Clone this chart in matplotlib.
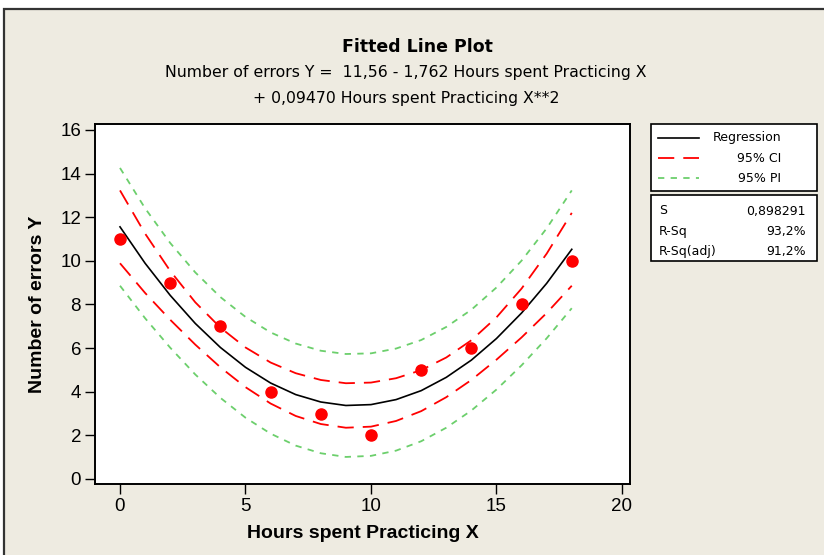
import matplotlib
matplotlib.use("Agg")
import matplotlib.pyplot as plt
from matplotlib.patches import Rectangle
from matplotlib.lines import Line2D

# observed data
hours = [0, 2, 4, 6, 8, 10, 12, 14, 16, 18]
errors = [11, 9, 7, 4, 3, 2, 5, 6, 8, 10]

# fitted curve and bands at each hour
grid_x = [0, 1, 2, 3, 4, 5, 6, 7, 8, 9, 10, 11, 12, 13, 14, 15, 16, 17, 18]
fit_y = [11.56, 9.89, 8.42, 7.13, 6.03, 5.12, 4.40, 3.87, 3.53, 3.37,
         3.41, 3.64, 4.05, 4.66, 5.45, 6.44, 7.61, 8.97, 10.53]
ci_hi = [13.23, 11.25, 9.54, 8.10, 6.94, 6.03, 5.34, 4.85, 4.54, 4.39,
         4.42, 4.62, 4.99, 5.57, 6.36, 7.41, 8.73, 10.33, 12.20]
ci_lo = [9.89, 8.53, 7.30, 6.16, 5.12, 4.21, 3.46, 2.89, 2.52, 2.35,
         2.40, 2.66, 3.11, 3.75, 4.54, 5.47, 6.49, 7.61, 8.86]
pi_hi = [14.26, 12.41, 10.82, 9.47, 8.34, 7.43, 6.72, 6.21, 5.88, 5.73,
         5.76, 5.98, 6.37, 6.97, 7.76, 8.78, 10.01, 11.49, 13.23]
pi_lo = [8.86, 7.37, 6.02, 4.79, 3.72, 2.81, 2.08, 1.53, 1.18, 1.01,
         1.06, 1.30, 1.73, 2.35, 3.14, 4.10, 5.21, 6.45, 7.83]

x_ticks = [0, 5, 10, 15, 20]
y_ticks = [0, 2, 4, 6, 8, 10, 12, 14, 16]

legend_labels = ["Regression", "95% CI", "95% PI"]
stat_names = ["S", "R-Sq", "R-Sq(adj)"]
stat_values = ["0,898291", "93,2%", "91,2%"]

BEIGE = "#EEEBE1"
GREEN = "#6CCF6C"
W, H = 824, 555
NARROW = "Liberation Sans"


def fx(px):
    return px / W


def fy(py):
    return 1 - py / H


fig = plt.figure(figsize=(W / 100, H / 100), dpi=100, facecolor="white")
fig.add_artist(Rectangle((fx(4), -0.1), 1.1, fy(9) + 0.1, transform=fig.transFigure,
                         facecolor=BEIGE, edgecolor="#333333", lw=1.6, zorder=0))

ax = fig.add_axes([fx(95), fy(484), fx(630) - fx(95), fy(124) - fy(484)])
ax.set_facecolor("white")

ax.plot(grid_x, pi_hi, color=GREEN, lw=1.3, dashes=(3.5, 3.5))
ax.plot(grid_x, pi_lo, color=GREEN, lw=1.3, dashes=(3.5, 3.5))
ax.plot(grid_x, ci_hi, color="red", lw=1.3, dashes=(9, 5))
ax.plot(grid_x, ci_lo, color="red", lw=1.3, dashes=(9, 5))
ax.plot(grid_x, fit_y, color="black", lw=1.2)
ax.plot(hours, errors, "o", color="red", ms=8, zorder=5)

ax.set_xlim(-0.996, 20.32)
ax.set_ylim(-0.23, 16.275)
ax.set_xticks(x_ticks)
ax.set_yticks(y_ticks)
for s in ax.spines.values():
    s.set_linewidth(1.4)
ax.tick_params(direction="out", length=7, width=1, labelsize=13.5, pad=3)
for lab in ax.get_xticklabels() + ax.get_yticklabels():
    lab.set_family(NARROW)
ax.set_xlabel("Hours spent Practicing X", fontsize=14, fontweight="bold",
              family=NARROW, labelpad=7)
ax.set_ylabel("Number of errors Y", fontsize=14, fontweight="bold",
              family=NARROW, labelpad=10)

fig.text(fx(417), fy(47), "Fitted Line Plot", ha="center", va="center",
         fontsize=12.5, fontweight="bold")
fig.text(fx(406), fy(73), "Number of errors Y =  11,56 - 1,762 Hours spent Practicing X",
         ha="center", va="center", fontsize=11.3)
fig.text(fx(406), fy(99), "+ 0,09470 Hours spent Practicing X**2",
         ha="center", va="center", fontsize=11.3)

# legend box
fig.add_artist(Rectangle((fx(651), fy(191)), fx(817) - fx(651), fy(124) - fy(191),
                         transform=fig.transFigure, facecolor="white",
                         edgecolor="black", lw=1.2))
styles = [dict(color="black", lw=1.2),
          dict(color="red", lw=1.3, dashes=(9, 5)),
          dict(color=GREEN, lw=1.3, dashes=(3.5, 3.5))]
for i, (lab, st) in enumerate(zip(legend_labels, styles)):
    yy = 138 + 20 * i
    fig.add_artist(Line2D([fx(658), fx(699)], [fy(yy), fy(yy)],
                          transform=fig.transFigure, **st))
    fig.text(fx(781), fy(yy), lab, ha="right", va="center", fontsize=9)

# statistics box
fig.add_artist(Rectangle((fx(651), fy(261)), fx(817) - fx(651), fy(195) - fy(261),
                         transform=fig.transFigure, facecolor="white",
                         edgecolor="black", lw=1.2))
for i, (name, val) in enumerate(zip(stat_names, stat_values)):
    yy = 211 + 20 * i
    fig.text(fx(659), fy(yy), name, ha="left", va="center", fontsize=9)
    fig.text(fx(806), fy(yy), val, ha="right", va="center", fontsize=9)

fig.savefig("out.png", dpi=100, facecolor="white")
